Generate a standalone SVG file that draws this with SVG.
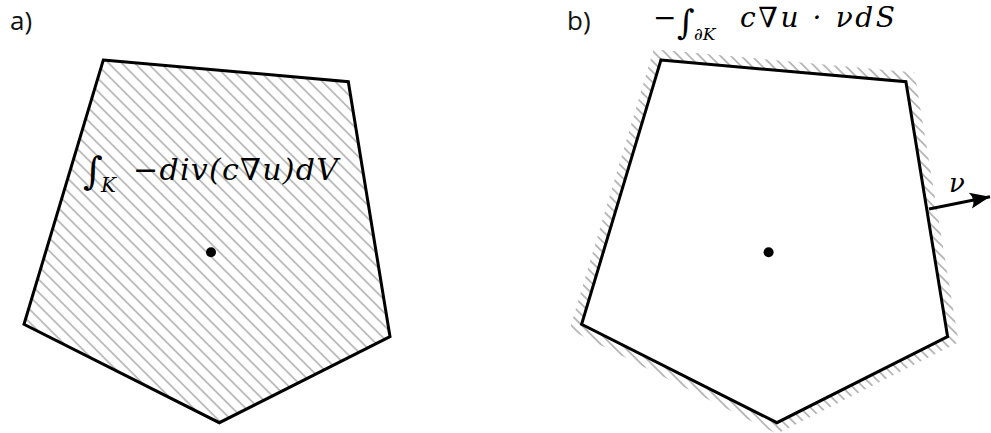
<svg xmlns="http://www.w3.org/2000/svg" width="991" height="433" viewBox="0 0 991 433">
<style>
.lbl{font-family:"Open Sans","DejaVu Sans",sans-serif;font-size:26px;fill:#111}
.m{font-family:"DejaVu Serif","Liberation Serif",serif;font-style:italic;fill:#000}
.r{font-family:"DejaVu Serif","Liberation Serif",serif;fill:#000}
.edge{fill:none;stroke:#000;stroke-width:3;stroke-linejoin:miter}
</style>
<defs>
<pattern id="hatchA" patternUnits="userSpaceOnUse" width="10" height="9.2" patternTransform="rotate(45)">
<line x1="0" y1="4.6" x2="10" y2="4.6" stroke="#a8a8a8" stroke-width="1.4"/>
</pattern>
<pattern id="hatchB" patternUnits="userSpaceOnUse" width="10" height="7.4" patternTransform="rotate(45)">
<line x1="0" y1="3.7" x2="10" y2="3.7" stroke="#a0a0a0" stroke-width="1.4"/>
</pattern>
<marker id="arr" markerUnits="userSpaceOnUse" markerWidth="24" markerHeight="20" refX="0" refY="0" viewBox="-22 -10 24 20" orient="auto">
<path d="M0,0 L-20,-8 Q-14,0 -20,8 Z" fill="#000"/>
</marker>
</defs>
<g id="panelA">
<text class="lbl" x="10" y="30">a)</text>
<polygon points="103.3,60 348.3,81.7 390,336.7 219.3,422.7 24,324.3" fill="url(#hatchA)"/>
<polygon class="edge" points="103.3,60 348.3,81.7 390,336.7 219.3,422.7 24,324.3"/>
<circle cx="211" cy="252.3" r="5" fill="#000"/>
<text class="r" x="83" y="184" font-size="38">∫</text>
<text class="m" x="101" y="192" font-size="20">K</text>
<text class="m" x="133" y="180" font-size="30" textLength="205" lengthAdjust="spacing">−div(c∇u)dV</text>
</g>
<g id="panelB">
<text class="lbl" x="567" y="30">b)</text>
<polygon points="660.9,60 905.9,81.7 947.6,336.7 776.9,422.7 581.6,324.3" fill="none" stroke="url(#hatchB)" stroke-width="20" stroke-linejoin="miter"/>
<polygon points="660.9,60 905.9,81.7 947.6,336.7 776.9,422.7 581.6,324.3" fill="#fff"/>
<polygon class="edge" points="660.9,60 905.9,81.7 947.6,336.7 776.9,422.7 581.6,324.3"/>
<circle cx="768.6" cy="252.3" r="5" fill="#000"/>
<text class="r" x="653" y="27" font-size="28">−</text>
<text class="r" x="677" y="34" font-size="34">∫</text>
<text class="m" x="694" y="40" font-size="17">∂K</text>
<text class="m" x="740" y="27" font-size="28" textLength="155" lengthAdjust="spacing">c∇u · νdS</text>
</g>
<g id="connectors">
<line x1="929" y1="209" x2="990" y2="196.7" stroke="#000" stroke-width="3" marker-end="url(#arr)"/>
<text class="m" x="949" y="192" font-size="26">ν</text>
</g>
</svg>
